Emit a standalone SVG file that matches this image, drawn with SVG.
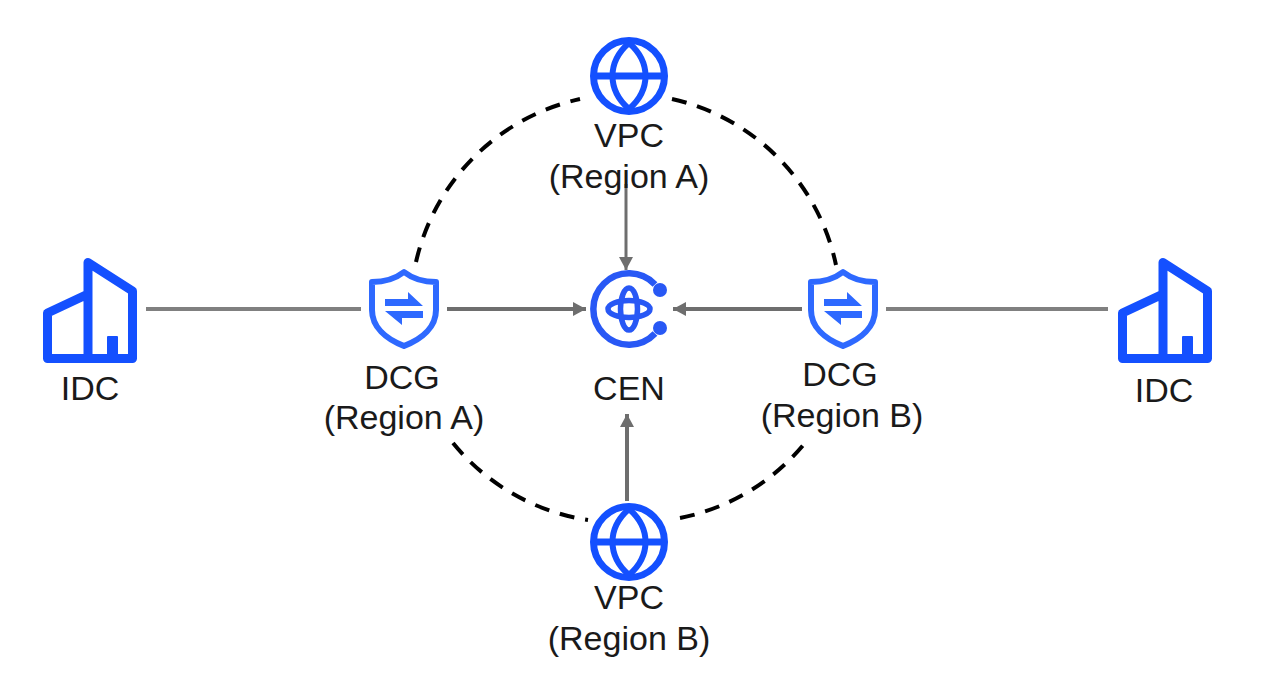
<svg xmlns="http://www.w3.org/2000/svg" width="1280" height="698" viewBox="0 0 1280 698">
  <style>
    .lbl { font-family: "Liberation Sans", Arial, sans-serif; font-size: 34px; fill: #1a1a1a; text-anchor: middle; }
    .solid { fill: none; stroke: #808080; stroke-width: 4; }
    .feed { fill: none; stroke: #6e6e6e; stroke-width: 4; }
    .dash { fill: none; stroke: #000; stroke-width: 4; stroke-dasharray: 15 11; }
    .idc { fill: none; stroke: #1450ff; stroke-width: 9; stroke-linejoin: round; }
    .globe { fill: none; stroke: #1450ff; stroke-width: 7; }
    .shield { fill: none; stroke: #2e69ff; stroke-width: 6; stroke-linejoin: round; }
    .hub { fill: none; stroke: #2858f5; stroke-width: 6.5; }
  </style>
  <defs>
    <marker id="tip" markerUnits="userSpaceOnUse" markerWidth="14" markerHeight="14" refX="13" refY="7" orient="auto">
      <path d="M0,0 L13,7 L0,14 Z" fill="#6e6e6e"/>
    </marker>
    <g id="building">
      <path class="idc" d="M47.5,358.5 V313 L88,294 V262.5 L132.5,291 V358.5 Z M88,294 V358.5"/>
      <rect x="107" y="336" width="11" height="20" rx="1" fill="#1450ff"/>
    </g>
    <g id="world">
      <circle class="globe" r="35.5"/>
      <path class="globe" d="M-35,0 H35"/>
      <path class="globe" style="stroke-width:6;stroke-linejoin:round" d="M0,-33 C-22,-14 -22,14 0,33 C22,14 22,-14 0,-33 Z"/>
    </g>
    <g id="guard">
      <path class="shield" d="M0,-37 C9,-30 19,-27 32,-27 V1 C32,18 18,30 0,37 C-18,30 -32,18 -32,1 V-27 C-19,-27 -9,-30 0,-37 Z"/>
      <path d="M-19,-10 H4 V-17 L19,-3 H-19 Z M19,2 V9 H-2 V16 L-19,2 Z" fill="#2e69ff"/>
    </g>
  </defs>

  <g id="connectors">
    <path class="dash" d="M416,262 A216,216 0 0 1 580,99"/>
    <path class="dash" d="M672,99 A216,216 0 0 1 836,265"/>
    <path class="dash" d="M453,443 A216,216 0 0 0 588,520"/>
    <path class="dash" d="M680,518 A216,216 0 0 0 805,443"/>
    <path class="solid" d="M146,309 H361"/>
    <path class="solid" d="M886,309 H1108"/>
    <path class="feed" d="M447,309 H586" marker-end="url(#tip)"/>
    <path class="feed" d="M802,309 H673" marker-end="url(#tip)"/>
    <path class="feed" style="stroke-width:3" d="M626,184 V270" marker-end="url(#tip)"/>
    <path class="feed" d="M627,501 V414" marker-end="url(#tip)"/>
  </g>

  <g id="idc-left">
    <use href="#building"/>
    <text class="lbl" x="90" y="400">IDC</text>
  </g>
  <g id="dcg-a">
    <use href="#guard" x="404" y="309"/>
    <text class="lbl" x="402" y="389">DCG</text>
    <text class="lbl" x="404" y="429">(Region A)</text>
  </g>
  <g id="cen">
    <path class="hub" d="M655,284.5 A35.7,35.7 0 1 0 655,333.5"/>
    <circle cx="660" cy="290" r="7" fill="#2858f5"/>
    <circle cx="660" cy="328" r="7" fill="#2858f5"/>
    <ellipse class="hub" style="stroke-width:5.5" cx="629" cy="309" rx="21" ry="8.5"/>
    <ellipse class="hub" style="stroke-width:5.5" cx="629" cy="309" rx="8.5" ry="21"/>
    <text class="lbl" x="629" y="400">CEN</text>
  </g>
  <g id="dcg-b">
    <use href="#guard" x="843" y="309"/>
    <text class="lbl" x="840" y="386">DCG</text>
    <text class="lbl" x="842" y="427">(Region B)</text>
  </g>
  <g id="idc-right">
    <use href="#building" x="1075"/>
    <text class="lbl" x="1164" y="402">IDC</text>
  </g>
  <g id="vpc-a">
    <use href="#world" x="629" y="76"/>
    <text class="lbl" x="629" y="147">VPC</text>
    <text class="lbl" x="629" y="188">(Region A)</text>
  </g>
  <g id="vpc-b">
    <use href="#world" x="629" y="542"/>
    <text class="lbl" x="629" y="609">VPC</text>
    <text class="lbl" x="629" y="650">(Region B)</text>
  </g>
</svg>
